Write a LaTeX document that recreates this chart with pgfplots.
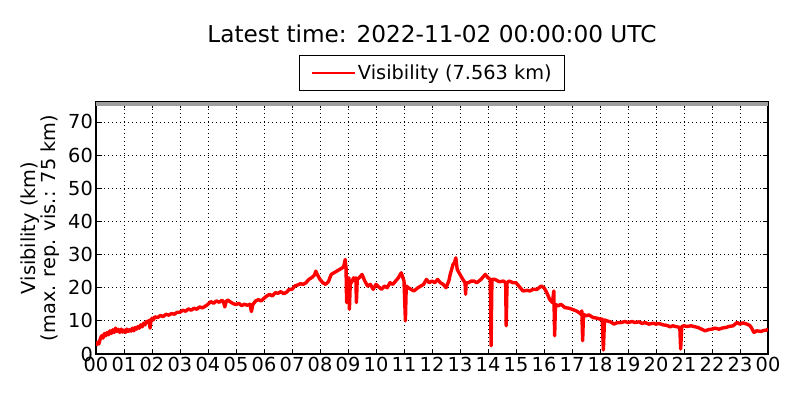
\documentclass[border=0pt]{standalone}
\usepackage{fontspec}
\setmainfont{DejaVu Sans}
\usepackage{pgfplots}
\pgfplotsset{compat=1.18}
\pgfplotstableread{
h v
0.00 2.5
0.05 3.5
0.10 3.0
0.15 4.5
0.20 5.5
0.25 4.8
0.30 6.2
0.35 5.5
0.40 6.5
0.45 5.8
0.50 7.0
0.55 6.2
0.60 7.3
0.65 6.5
0.70 7.8
0.75 6.8
0.80 7.4
0.85 6.5
0.90 7.5
0.95 6.6
1.00 7.2
1.05 6.5
1.10 7.5
1.15 6.8
1.20 7.3
1.25 6.9
1.30 7.8
1.35 7.0
1.40 8.0
1.45 7.5
1.50 8.3
1.55 7.8
1.60 8.8
1.65 8.2
1.70 9.3
1.75 8.8
1.80 9.8
1.85 9.5
1.90 10.2
1.93 7.8
1.96 9.8
2.00 10.8
2.05 10.3
2.10 11.2
2.20 11.0
2.30 11.6
2.40 11.3
2.50 12.0
2.60 11.7
2.70 12.2
2.80 12.0
2.90 12.6
3.00 12.6
3.10 13.2
3.20 12.9
3.30 13.6
3.40 13.2
3.50 13.8
3.60 13.5
3.70 14.2
3.80 13.9
3.90 14.4
4.00 15.0
4.10 15.8
4.20 15.3
4.30 16.0
4.40 15.6
4.50 16.2
4.55 15.8
4.60 14.2
4.65 15.8
4.70 16.3
4.80 15.7
4.90 15.2
5.00 14.9
5.10 15.3
5.20 14.6
5.30 15.0
5.40 14.7
5.50 15.0
5.55 12.8
5.60 14.9
5.70 16.0
5.80 16.4
5.90 16.0
6.00 16.8
6.10 17.5
6.20 18.0
6.30 17.5
6.40 18.5
6.50 18.3
6.60 18.8
6.70 18.2
6.80 18.6
6.90 19.5
7.00 19.5
7.10 20.5
7.20 20.8
7.30 21.2
7.40 21.0
7.50 21.5
7.60 22.5
7.70 23.0
7.80 23.8
7.85 25.0
7.90 24.0
8.00 22.5
8.10 21.5
8.20 21.0
8.30 21.8
8.40 24.0
8.50 24.5
8.60 25.0
8.70 25.5
8.80 26.0
8.85 26.5
8.90 28.5
8.93 26.0
8.95 15.5
8.97 22.0
9.00 21.5
9.03 23.0
9.05 13.5
9.08 21.0
9.15 22.0
9.20 23.0
9.25 22.0
9.28 23.0
9.30 15.5
9.33 22.5
9.40 23.0
9.50 24.0
9.60 22.0
9.70 20.5
9.80 21.0
9.90 19.5
10.00 21.0
10.10 20.2
10.20 19.5
10.30 20.5
10.40 20.0
10.50 21.5
10.60 21.0
10.70 22.0
10.80 23.0
10.90 24.5
11.00 22.0
11.05 10.0
11.08 20.5
11.15 20.0
11.25 19.5
11.35 19.0
11.50 20.0
11.60 20.5
11.70 21.0
11.80 22.5
11.90 21.5
12.00 22.0
12.10 21.5
12.20 22.5
12.30 21.5
12.40 21.0
12.50 20.0
12.60 22.0
12.65 24.0
12.70 25.5
12.75 27.0
12.80 27.5
12.85 29.0
12.90 25.5
13.00 24.0
13.10 22.5
13.18 21.5
13.20 18.0
13.22 21.5
13.30 21.5
13.40 22.0
13.50 22.0
13.60 21.5
13.75 22.5
13.90 24.0
14.00 23.0
14.08 22.5
14.11 2.5
14.14 22.5
14.25 22.5
14.40 21.8
14.55 22.0
14.63 21.5
14.65 8.5
14.68 21.5
14.75 22.0
14.90 21.5
15.00 21.5
15.10 20.5
15.25 19.0
15.40 19.2
15.50 19.0
15.60 19.5
15.75 19.5
15.90 20.5
16.00 20.0
16.10 18.5
16.20 16.5
16.30 15.5
16.35 19.0
16.38 5.5
16.41 15.0
16.50 14.5
16.60 15.0
16.75 14.0
16.90 13.8
17.00 13.5
17.15 13.0
17.25 12.5
17.32 12.0
17.35 13.0
17.38 4.0
17.41 12.0
17.50 11.5
17.60 11.8
17.75 11.0
17.90 10.8
18.00 10.5
18.08 10.5
18.12 1.2
18.16 10.3
18.25 10.0
18.40 9.6
18.50 9.0
18.60 9.4
18.75 9.5
18.90 9.8
19.00 9.5
19.15 9.8
19.25 9.5
19.40 9.7
19.50 9.2
19.60 9.5
19.75 9.0
19.90 9.3
20.00 9.0
20.10 9.2
20.25 8.8
20.40 8.6
20.50 8.2
20.60 8.5
20.75 8.2
20.85 8.0
20.88 1.5
20.92 8.3
21.00 8.5
21.10 8.3
21.25 8.5
21.40 8.2
21.50 8.0
21.60 7.6
21.75 7.0
21.90 7.4
22.00 7.5
22.10 7.8
22.25 7.5
22.40 7.9
22.50 8.0
22.60 8.3
22.75 8.5
22.90 9.5
23.00 9.0
23.10 9.4
23.25 9.0
23.35 8.6
23.40 8.0
23.50 6.5
23.60 7.0
23.75 6.8
23.85 7.1
23.95 7.2
24.00 7.56
}\vis
\begin{document}
\begin{tikzpicture}[x=1bp,y=1bp]
\useasboundingbox (0,0) rectangle (800,400);
\node[font=\fontsize{23.3}{28}\selectfont] at (432,366) {Latest time: 2022-11-02 00:00:00 UTC};
\node[rotate=90, align=center, font=\fontsize{19.4}{20.5}\selectfont] at (40,172) {Visibility (km)\\(max. rep. vis.: 75 km)};
\begin{axis}[
  at={(96bp,46bp)}, anchor=south west,
  width=672bp, height=252bp, scale only axis,
  xmin=0, xmax=24, ymin=0, ymax=76,
  xtick={0,...,24},
  xticklabels={00,01,02,03,04,05,06,07,08,09,10,11,12,13,14,15,16,17,18,19,20,21,22,23,00},
  ytick={0,10,...,70},
  tick align=inside, tick pos=both,
  major tick length=5.5bp,
  every tick/.style={black, line width=0.7bp},
  axis line style={black, line width=1.4bp},
  grid=major,
  major grid style={black, line width=0.7bp, dash pattern=on 1bp off 3bp},
  tick label style={font=\fontsize{19.4}{22}\selectfont},
  /pgf/number format/assume math mode=true,
  xticklabel style={inner sep=3bp},
  yticklabel style={inner sep=3bp},
  legend style={draw=black, line width=0.8bp, at={(0.5,1.1865)}, anchor=north,
    font=\fontsize{19.4}{22}\selectfont, inner xsep=11bp, inner ysep=7.5bp,
    /tikz/every even column/.append style={column sep=6bp}},
  legend image code/.code={\draw[#1, line width=2.7bp] (-3bp,0bp) -- (40bp,0bp);},
  clip=true,
]
\fill[gray!75] (axis cs:0,74.9) rectangle (axis cs:24,76);
\addplot[red, line width=3.4bp, line join=round] table[x=h,y=v] {\vis};
\addlegendentry{Visibility (7.563 km)}
\end{axis}
\end{tikzpicture}
\end{document}
